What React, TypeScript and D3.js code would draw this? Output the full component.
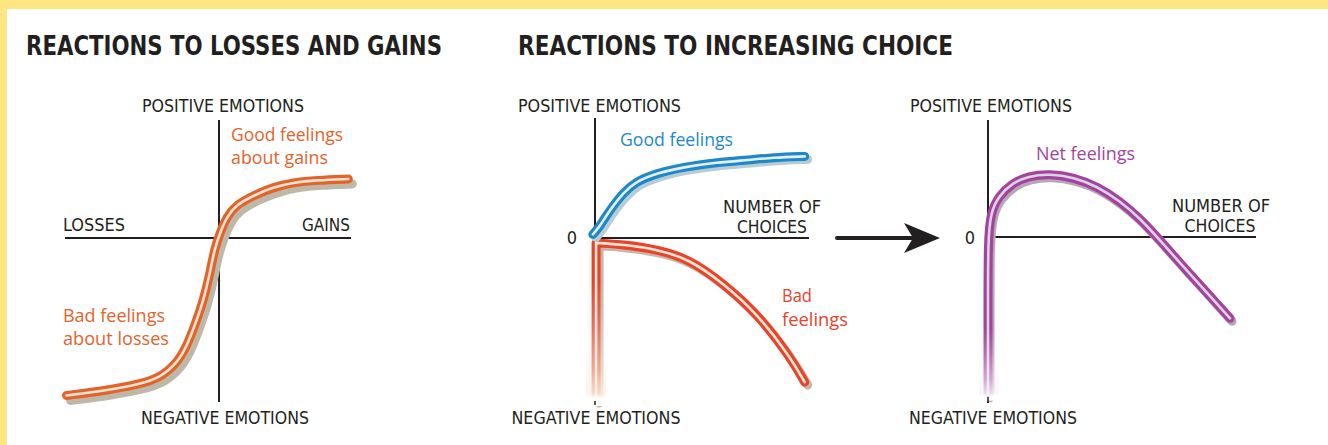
import React from "react";
import * as d3 from "d3";

// ---------- DATA ----------
// Chart 1: reactions to losses and gains (x: losses -1 .. gains 1, y: negative -1 .. positive 1)
const lossGainX = [-0.99, -0.73, -0.51, -0.38, -0.27, -0.21, -0.16, -0.1, -0.06, -0.03, 0.01, 0.06, 0.13, 0.26, 0.41, 0.56, 0.74, 0.98];
const lossGainY = [-0.96, -0.93, -0.89, -0.85, -0.76, -0.66, -0.54, -0.38, -0.22, -0.07, 0.05, 0.18, 0.28, 0.36, 0.43, 0.47, 0.49, 0.5];

// Chart 2: reactions to increasing choice (x: number of choices 0..1)
const goodX = [-0.01, 0.02, 0.05, 0.09, 0.13, 0.19, 0.29, 0.41, 0.57, 0.72, 0.83, 0.98];
const goodY = [0.03, 0.09, 0.18, 0.28, 0.37, 0.47, 0.54, 0.59, 0.63, 0.65, 0.67, 0.68];
const badStemX = [0.005, 0.005];
const badStemY = [-1.0, -0.03];
const badX = [0.005, 0.13, 0.29, 0.44, 0.6, 0.76, 0.91, 0.98];
const badY = [-0.03, -0.04, -0.07, -0.13, -0.28, -0.47, -0.73, -0.89];

// Chart 3: net feelings
const netX = [0.0, 0.0, 0.0, 0.0, 0.01, 0.04, 0.09, 0.15, 0.23, 0.32, 0.41, 0.49, 0.567, 0.642, 0.735, 0.828, 0.903];
const netY = [-0.95, -0.7, -0.46, -0.02, 0.21, 0.35, 0.46, 0.52, 0.54, 0.51, 0.43, 0.31, 0.16, -0.02, -0.19, -0.355, -0.49];

const titles = ["REACTIONS TO LOSSES AND GAINS", "REACTIONS TO INCREASING CHOICE"];
const axisTexts = ["POSITIVE EMOTIONS", "NEGATIVE EMOTIONS", "LOSSES", "GAINS", "NUMBER OF", "CHOICES", "0"];

// ---------- STYLE ----------
const INK = "#231F20";
const AXIS_FONT = "'DejaVu Sans Condensed', 'DejaVu Sans', sans-serif";
const LABEL_FONT = "'Open Sans', 'Noto Sans', sans-serif";

const zip = (xs: number[], ys: number[]) => xs.map((x, i) => [x, ys[i]] as [number, number]);

function Curve({ d, color, inner, shadow, dx = 3, dy = 4 }: { d: string; color: string; inner: string; shadow: string; dx?: number; dy?: number }) {
  return (
    <g fill="none" strokeLinecap="round" strokeLinejoin="round">
      <path d={d} stroke={shadow} strokeWidth={9} transform={`translate(${dx},${dy})`} />
      <path d={d} stroke={color} strokeWidth={9} />
      <path d={d} stroke={inner} strokeWidth={2.6} />
    </g>
  );
}

function T({ x, y, w, children, anchor = "start", size = 18, font = AXIS_FONT, fill = INK, weight = "normal" }: any) {
  return (
    <text x={x} y={y} textAnchor={anchor} fontSize={size} fontFamily={font} fill={fill} fontWeight={weight}
      textLength={w} lengthAdjust="spacingAndGlyphs">{children}</text>
  );
}

function Fade({ id, top, bottom, tint }: { id: string; top: number; bottom: number; tint: string }) {
  return (
    <linearGradient id={id} x1="0" y1={top} x2="0" y2={bottom} gradientUnits="userSpaceOnUse">
      <stop offset="0" stopColor="#fff" stopOpacity={0} />
      <stop offset="0.35" stopColor="#fff" stopOpacity={0.22} />
      <stop offset="0.7" stopColor={tint} stopOpacity={0.55} />
      <stop offset="0.9" stopColor={tint} stopOpacity={0.85} />
      <stop offset="0.94" stopColor="#fff" stopOpacity={1} />
    </linearGradient>
  );
}

export default function App() {
  // scales
  const x1 = d3.scaleLinear().domain([-1, 0, 1]).range([65, 219, 351]);
  const y1 = d3.scaleLinear().domain([-1, 0, 1]).range([402, 238, 120]);
  const x2 = d3.scaleLinear().domain([0, 1]).range([595, 809]);
  const y2 = d3.scaleLinear().domain([-1, 0, 1]).range([400, 238, 118]);
  const x3 = d3.scaleLinear().domain([0, 1]).range([988, 1256]);
  const y3 = d3.scaleLinear().domain([-1, 0, 1]).range([403, 237, 120]);

  const line1 = d3.line<[number, number]>().x(p => x1(p[0])).y(p => y1(p[1])).curve(d3.curveBasis);
  const line2 = d3.line<[number, number]>().x(p => x2(p[0])).y(p => y2(p[1])).curve(d3.curveBasis);
  const line2lin = d3.line<[number, number]>().x(p => x2(p[0])).y(p => y2(p[1]));
  const line3 = d3.line<[number, number]>().x(p => x3(p[0])).y(p => y3(p[1])).curve(d3.curveBasis);

  const dLG = line1(zip(lossGainX, lossGainY)) || "";
  const dGood = line2(zip(goodX, goodY)) || "";
  const dBad = (line2lin(zip(badStemX, badStemY)) || "") + (line2(zip(badX, badY)) || "").replace(/^M/, "L");
  const dNet = line3(zip(netX, netY)) || "";

  const redTop = y2(-0.27), redBot = y2(-1) + 6;
  const purTop = y3(-0.55), purBot = y3(-0.95) + 6;

  return (
    <svg width={1328} height={445} viewBox="0 0 1328 445" style={{ position: "absolute", left: 0, top: 0, display: "block" }}>
      <defs>
        <Fade id="fadeRed" top={redTop} bottom={redBot} tint="#fdf3e6" />
        <Fade id="fadePurple" top={purTop} bottom={purBot} tint="#fbf4fb" />
      </defs>
      <rect x={0} y={0} width={1328} height={445} fill="#FFE680" />
      <rect x={7} y={9} width={1321} height={436} fill="#ffffff" />

      {/* titles */}
      <T x={26} y={55} w={416} size={27} weight="bold">{titles[0]}</T>
      <T x={518} y={55} w={435} size={27} weight="bold">{titles[1]}</T>

      {/* ---------- Chart 1 ---------- */}
      <g stroke={INK} strokeWidth={2}>
        <line x1={x1(0)} x2={x1(0)} y1={y1(1)} y2={y1(-1)} />
        <line x1={x1(-1)} x2={x1(1)} y1={y1(0)} y2={y1(0)} />
      </g>
      <T x={223} y={112} w={162} anchor="middle">{axisTexts[0]}</T>
      <T x={225} y={424} w={168} anchor="middle">{axisTexts[1]}</T>
      <T x={63} y={231} w={62}>{axisTexts[2]}</T>
      <T x={350} y={231} w={48} anchor="end">{axisTexts[3]}</T>
      <Curve d={dLG} color="#E4632B" inner="#EDE3D1" shadow="#BDB8A8" dx={4} dy={5} />
      <T x={231} y={141} w={112} font={LABEL_FONT} fill="#E4632B" size={18} weight={500}>Good feelings</T>
      <T x={231} y={164} w={97} font={LABEL_FONT} fill="#E4632B" size={18} weight={500}>about gains</T>
      <T x={63} y={322} w={102} font={LABEL_FONT} fill="#E4632B" size={18} weight={500}>Bad feelings</T>
      <T x={63} y={345} w={106} font={LABEL_FONT} fill="#E4632B" size={18} weight={500}>about losses</T>

      {/* ---------- Chart 2 ---------- */}
      <g stroke={INK} strokeWidth={2}>
        <line x1={x2(0)} x2={x2(0)} y1={y2(1)} y2={y2(-1) + 4} />
        <line x1={x2(0)} x2={x2(1)} y1={y2(0)} y2={y2(0)} />
      </g>
      <T x={518} y={112} w={163}>{axisTexts[0]}</T>
      <T x={596} y={424} w={169} anchor="middle">{axisTexts[1]}</T>
      <T x={772} y={213} w={98} anchor="middle">{axisTexts[4]}</T>
      <T x={772} y={233} w={70} anchor="middle">{axisTexts[5]}</T>
      <T x={572} y={244} anchor="middle">{axisTexts[6]}</T>
      <Curve d={dBad} color="#E8432B" inner="#F9E6D3" shadow="#C7B6A8" dx={3} dy={3} />
      <rect x={586} y={redTop} width={20} height={redBot - redTop} fill="url(#fadeRed)" />
      <line x1={x2(0)} x2={x2(0)} y1={y2(-1) + 1} y2={y2(-1) + 5} stroke={INK} strokeWidth={1.5} />
      <Curve d={dGood} color="#1E88C8" inner="#E3F0F8" shadow="#B8CCD6" dx={3} dy={3} />
      <T x={620} y={146} w={113} font={LABEL_FONT} fill="#1E88C8" size={18} weight={500}>Good feelings</T>
      <T x={782} y={302} w={30} font={LABEL_FONT} fill="#E8432B" size={18} weight={500}>Bad</T>
      <T x={782} y={326} w={66} font={LABEL_FONT} fill="#E8432B" size={18} weight={500}>feelings</T>

      {/* arrow */}
      <g fill={INK} stroke="none">
        <line x1={837} x2={912} y1={238} y2={238} stroke={INK} strokeWidth={4} strokeLinecap="round" />
        <path d="M940,238 L904,223 L913,238 L904,253 Z" />
      </g>

      {/* ---------- Chart 3 ---------- */}
      <g stroke={INK} strokeWidth={2}>
        <line x1={x3(0)} x2={x3(0)} y1={y3(1)} y2={y3(-1)} />
        <line x1={x3(0)} x2={x3(1)} y1={y3(0)} y2={y3(0)} />
      </g>
      <T x={910} y={112} w={162}>{axisTexts[0]}</T>
      <T x={993} y={424} w={168} anchor="middle">{axisTexts[1]}</T>
      <T x={1221} y={212} w={98} anchor="middle">{axisTexts[4]}</T>
      <T x={1220} y={232} w={71} anchor="middle">{axisTexts[5]}</T>
      <T x={970} y={244} anchor="middle">{axisTexts[6]}</T>
      <Curve d={dNet} color="#A3449C" inner="#DCD2E8" shadow="#B7A6B6" dx={2} dy={3} />
      <rect x={979} y={purTop} width={20} height={purBot - purTop} fill="url(#fadePurple)" />
      <line x1={x3(0)} x2={x3(0)} y1={y3(-0.95) + 2} y2={y3(-1)} stroke={INK} strokeWidth={1.5} />
      <T x={1036} y={160} w={99} font={LABEL_FONT} fill="#A3449C" size={18} weight={500}>Net feelings</T>
    </svg>
  );
}
